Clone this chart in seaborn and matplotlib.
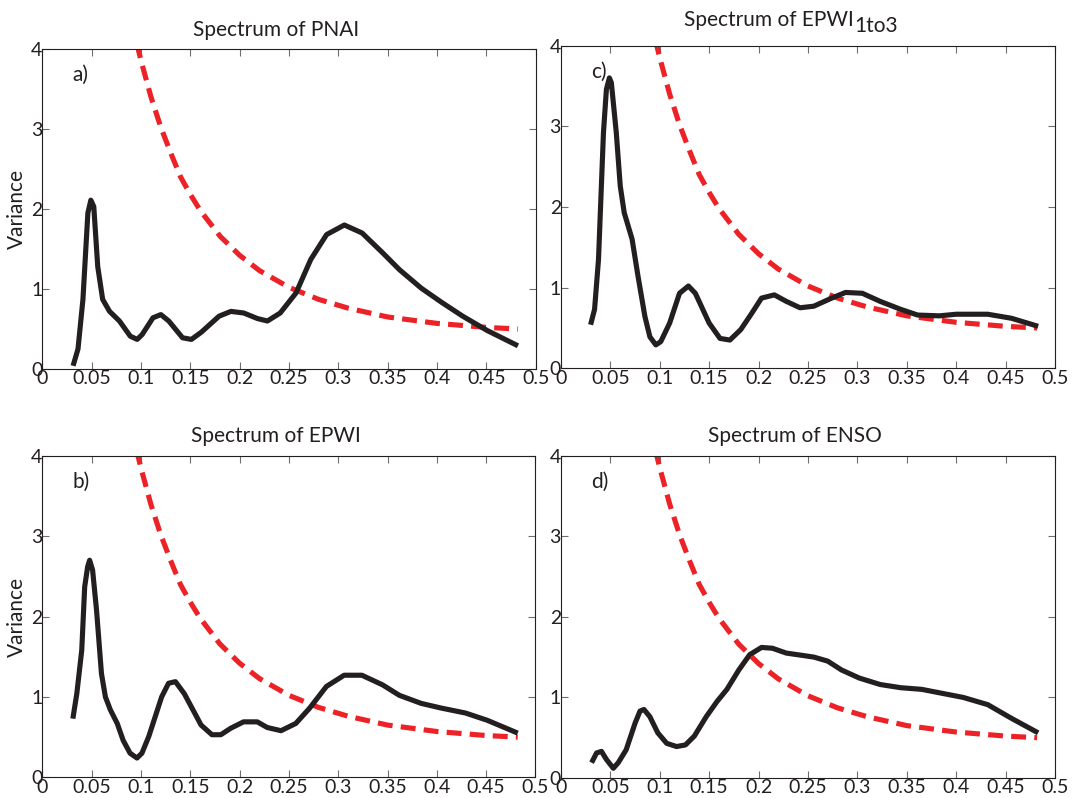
import matplotlib
matplotlib.use("Agg")
import matplotlib.pyplot as plt
import seaborn as sns
import numpy as np

# ---------------- data ----------------
freq_a = [0.031, 0.036, 0.041, 0.046, 0.049, 0.052, 0.056, 0.061, 0.068, 0.078, 0.089, 0.096,
          0.101, 0.112, 0.120, 0.128, 0.142, 0.151, 0.161, 0.179, 0.191, 0.204, 0.218, 0.228,
          0.241, 0.257, 0.272, 0.288, 0.306, 0.324, 0.345, 0.362, 0.384, 0.405, 0.426, 0.451, 0.482]
var_pnai = [0.04, 0.25, 0.87, 1.95, 2.11, 2.03, 1.28, 0.87, 0.72, 0.60, 0.41, 0.37,
            0.43, 0.64, 0.68, 0.60, 0.39, 0.37, 0.46, 0.66, 0.72, 0.70, 0.63, 0.60,
            0.70, 0.95, 1.37, 1.68, 1.80, 1.70, 1.45, 1.24, 1.01, 0.83, 0.66, 0.48, 0.29]

freq_b = [0.031, 0.035, 0.040, 0.043, 0.046, 0.048, 0.051, 0.055, 0.060, 0.064, 0.069, 0.076,
          0.082, 0.089, 0.096, 0.101, 0.108, 0.121, 0.128, 0.135, 0.144, 0.161, 0.172, 0.181,
          0.191, 0.204, 0.218, 0.228, 0.242, 0.257, 0.271, 0.288, 0.306, 0.324, 0.345, 0.362,
          0.384, 0.405, 0.429, 0.451, 0.482]
var_epwi = [0.73, 1.04, 1.58, 2.37, 2.62, 2.70, 2.58, 2.08, 1.29, 1.00, 0.84, 0.67,
            0.46, 0.30, 0.24, 0.30, 0.51, 1.00, 1.17, 1.19, 1.04, 0.65, 0.53, 0.53,
            0.61, 0.69, 0.69, 0.62, 0.58, 0.67, 0.86, 1.13, 1.27, 1.27, 1.15, 1.02,
            0.92, 0.86, 0.80, 0.71, 0.55]

freq_c = [0.030, 0.034, 0.038, 0.043, 0.046, 0.049, 0.051, 0.056, 0.060, 0.064, 0.072, 0.078,
          0.085, 0.090, 0.096, 0.101, 0.110, 0.120, 0.129, 0.136, 0.150, 0.161, 0.171, 0.182,
          0.193, 0.203, 0.216, 0.228, 0.242, 0.256, 0.274, 0.288, 0.305, 0.323, 0.344, 0.361,
          0.383, 0.400, 0.432, 0.456, 0.483]
var_epwi13 = [0.54, 0.73, 1.35, 2.92, 3.46, 3.60, 3.54, 2.92, 2.26, 1.93, 1.60, 1.14,
              0.64, 0.39, 0.29, 0.33, 0.56, 0.93, 1.02, 0.93, 0.56, 0.37, 0.35, 0.48,
              0.68, 0.87, 0.91, 0.83, 0.75, 0.77, 0.87, 0.94, 0.93, 0.83, 0.73, 0.66,
              0.65, 0.67, 0.67, 0.62, 0.52]

freq_d = [0.031, 0.036, 0.041, 0.046, 0.053, 0.058, 0.066, 0.075, 0.080, 0.084, 0.090, 0.098,
          0.107, 0.117, 0.126, 0.135, 0.147, 0.158, 0.168, 0.180, 0.191, 0.203, 0.214, 0.228,
          0.245, 0.256, 0.270, 0.284, 0.302, 0.323, 0.344, 0.365, 0.386, 0.407, 0.432, 0.456, 0.483]
var_enso = [0.19, 0.31, 0.33, 0.23, 0.12, 0.19, 0.35, 0.68, 0.83, 0.85, 0.76, 0.56,
            0.43, 0.39, 0.41, 0.52, 0.76, 0.95, 1.10, 1.34, 1.53, 1.62, 1.61, 1.55,
            1.52, 1.50, 1.45, 1.34, 1.24, 1.16, 1.12, 1.10, 1.05, 1.00, 0.91, 0.74, 0.56]

# red-noise reference spectrum (shared)
freq_red = [0.090, 0.100, 0.110, 0.120, 0.130, 0.140, 0.150, 0.160, 0.180, 0.200, 0.220,
            0.250, 0.280, 0.310, 0.350, 0.400, 0.450, 0.482]
var_red = [4.35, 3.85, 3.40, 3.02, 2.70, 2.40, 2.18, 1.98, 1.66, 1.42, 1.23,
           1.02, 0.87, 0.76, 0.65, 0.57, 0.52, 0.50]

xtick_vals = [0, 0.05, 0.1, 0.15, 0.2, 0.25, 0.3, 0.35, 0.4, 0.45, 0.5]
xtick_labels = ["0", "0.05", "0.1", "0.15", "0.2", "0.25", "0.3", "0.35", "0.4", "0.45", "0.5"]
ytick_vals = [0, 1, 2, 3, 4]
ytick_labels = ["0", "1", "2", "3", "4"]

panels = [
    dict(freq=freq_a, var=var_pnai, title="Spectrum of PNAI", sub=None, tag="a)",
         pos=[0.0392, 0.5376, 0.4550, 0.4010], ylabel=True),
    dict(freq=freq_c, var=var_epwi13, title="Spectrum of EPWI", sub="1to3", tag="c)",
         pos=[0.5175, 0.5385, 0.4557, 0.4043], ylabel=False),
    dict(freq=freq_b, var=var_epwi, title="Spectrum of EPWI", sub=None, tag="b)",
         pos=[0.0390, 0.0259, 0.4550, 0.4030], ylabel=True),
    dict(freq=freq_d, var=var_enso, title="Spectrum of ENSO", sub=None, tag="d)",
         pos=[0.5175, 0.0251, 0.4557, 0.4039], ylabel=False),
]

# ---------------- style ----------------
sns.set_style("ticks", rc={
    "xtick.direction": "in", "ytick.direction": "in",
    "xtick.top": True, "ytick.right": True,
    "axes.edgecolor": "#231f20", "axes.linewidth": 0.9,
})
plt.rcParams["font.family"] = ["Lato", "DejaVu Sans"]

BLACK = "#231f20"
RED = "#ed2226"
FS_TICK = 14
FS_TITLE = 15
FS_TAG = 15

fig = plt.figure(figsize=(10.84, 7.98), dpi=100)

for p in panels:
    ax = fig.add_axes(p["pos"])
    sns.lineplot(x=freq_red, y=var_red, ax=ax, color=RED, lw=3.7,
                 sort=False, estimator=None)
    red_line = ax.lines[-1]
    red_line.set_dashes((2.9, 1.6))
    red_line.set_dash_capstyle("butt")
    sns.lineplot(x=p["freq"], y=p["var"], ax=ax, color=BLACK, lw=3.7,
                 sort=False, estimator=None)
    ax.lines[-1].set_solid_joinstyle("round")
    ax.lines[-1].set_solid_capstyle("butt")

    ax.set_xlim(0, 0.5)
    ax.set_ylim(0, 4)
    ax.set_xticks(xtick_vals, xtick_labels)
    ax.set_yticks(ytick_vals, ytick_labels)
    ax.tick_params(axis="both", which="major", length=5, width=0.8,
                   color="#6d6e71", labelsize=FS_TICK, labelcolor=BLACK)
    ax.tick_params(axis="x", pad=1)
    ax.tick_params(axis="y", pad=0)
    for s in ax.spines.values():
        s.set_visible(True)
        s.set_color(BLACK)
    ax.set_xlabel("")
    if p["ylabel"]:
        ax.set_ylabel("Variance", fontsize=FS_TITLE, color=BLACK, labelpad=3)
    else:
        ax.set_ylabel("")

    ax.text(0.0305, 3.68, p["tag"], fontsize=FS_TAG, color=BLACK,
            ha="left", va="center")

    if p["sub"] is None:
        ax.annotate(p["title"], xy=(0.473, 1.0), xycoords="axes fraction",
                    xytext=(0, 9.6), textcoords="offset points",
                    ha="center", va="baseline", fontsize=FS_TITLE, color=BLACK)
    else:
        ax.annotate(p["title"], xy=(0.593, 1.0), xycoords="axes fraction",
                    xytext=(0, 14.4), textcoords="offset points",
                    ha="right", va="baseline", fontsize=FS_TITLE, color=BLACK)
        ax.annotate(p["sub"], xy=(0.593, 1.0), xycoords="axes fraction",
                    xytext=(0.5, 9.6), textcoords="offset points",
                    ha="left", va="baseline", fontsize=FS_TITLE, color=BLACK)

fig.savefig("out.png", dpi=100)
